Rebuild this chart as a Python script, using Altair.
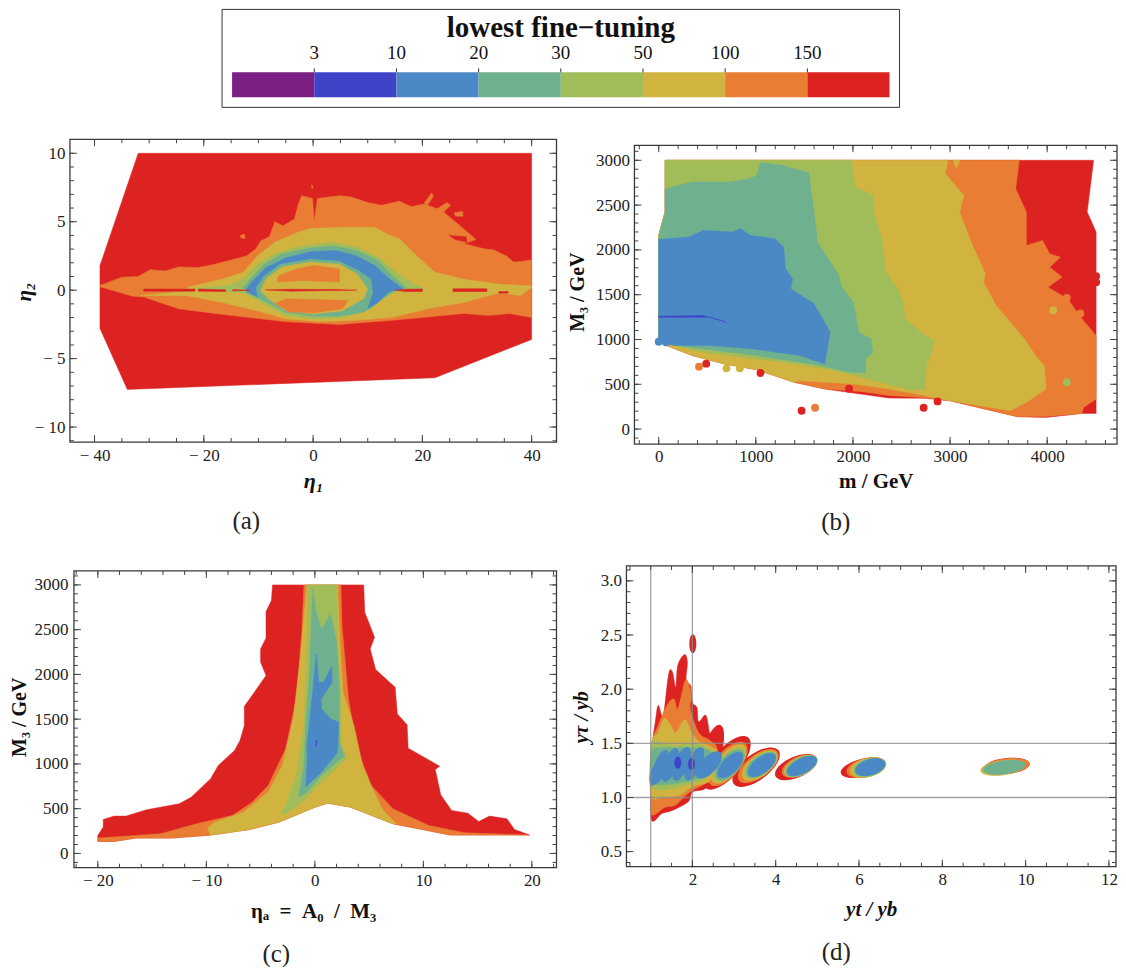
import altair as alt
import pandas as pd

PURPLE, INDIGO, BLUE, TEAL, GREEN, YELLOW, ORANGE, RED = (
    "#7B1F82", "#4043C8", "#4A89C5", "#6FB18E", "#A1BD5A", "#D1B33F", "#E87D33", "#DD2222")
LEGEND_COLOURS = [PURPLE, INDIGO, BLUE, TEAL, GREEN, YELLOW, ORANGE, RED]
LEGEND_LABELS = ["3", "10", "20", "30", "50", "100", "150"]
SERIF = "Liberation Serif"

# ---------- panel (a)
A_RED = [(-32,10),(40,10),(40,-3.6),(22.3,-6.4),(-34,-7.25),(-39,-2.8),(-39,1.8)]
A_ORANGE = [(-39,0.35),(-35,0.95),(-32,1),(-29.8,1.5),(-27,1.4),(-24.6,1.7),(-21,1.65),(-18,1.9),(-15,2.2),(-12.2,2.5),(-10.5,3),(-9.6,3.6),(-8,3.9),(-7,5),(-5.5,4.7),(-3.4,5.2),
            (-2.7,6.3),(-2.1,6.9),(-0.1,6.7),(0.2,5),(0.8,6.7),(4.8,6.9),(7,6.8),(10,6.4),(12.5,6.2),(15.8,6.5),(18,6.1),(20.4,6.3),(23.6,5.8),
            (26.9,4.7),(29.8,3.7),(27.6,3.4),(31.5,3),(33,2.95),(35.4,2.5),(36.7,2.05),(38,2.1),(40,2.2),(40,-2),(36,-1.7),(32,-1.85),(27.6,-1.7),(20,-2),(14.5,-2.2),
            (4.8,-2.5),(-5,-2.3),(-11.5,-2),(-18,-1.7),(-24.6,-1.36),(-31,-0.5),(-33,-0.44),(-39,0.25)]
A_ORANGE_BITS = [[(20.4,6.4),(21.7,7.1),(22,6.85),(20.7,6.1)],[(24.5,6.4),(25.2,6.2),(23.8,5.7),(22.5,5.9)],
                 [(25.8,5.65),(27.4,5.75),(27.4,5.4),(26.1,5.4)],[(-13.3,4),(-12.6,4.1),(-12.4,3.8),(-13.2,3.8)],
                 [(-0.3,7.7),(0,7.6),(-0.2,7.4)]]
A_RED_NOTCH = [(24.9,4),(28,3.9),(28.2,3.5),(26,3.7)]
A_YELLOW = [(-22.6,0.25),(-16.7,0.8),(-12.8,1.3),(-10.2,2.5),(-7,3.5),(-3,4.2),(-0.5,4.5),(5.4,4.6),(11.3,4.6),
            (13.5,4.1),(15.8,3.75),(19,2.5),(22.3,1.3),(27.6,0.8),(34,0.45),(40,0.3),(40,0.22),(38,-0.4),(34,-0.2),(27.6,-0.9),
            (21,-1.35),(14.5,-2),(8,-2.2),(1.5,-2.3),(-5,-2.1),(-10.2,-1.5),(-16.7,-0.9),(-23,-0.4),(-31.7,-0.4),(-24,-0.1)]
A_GREEN = [(-22,0.1),(-15.4,0.35),(-12.8,0.8),(-10.2,1.9),(-7,2.65),(-3,3.15),(3.5,3.5),(8,3.15),(11.9,2.4),(15.2,1.3),
           (18.4,0.45),(20.4,0.1),(15,-0.1),(11.9,-0.9),(10.6,-1.4),(5.4,-2),(0.2,-2.1),(-5,-1.85),(-10.2,-0.75),(-12.8,-0.2)]
A_TEAL = [(-12.8,0.15),(-11.5,0.8),(-8.9,1.9),(-5.7,2.65),(-1.1,3.05),(3.45,3.25),(8,2.9),(11.9,2.15),(14.5,1.05),(17,0.2),
          (14.5,-0.15),(11.3,-1),(9.3,-1.6),(4.8,-1.9),(0.2,-1.9),(-5,-1.6),(-9.6,-0.65),(-12.2,-0.15)]
A_BLUE = [(-12.2,0.1),(-11.2,0.6),(-8.6,1.65),(-5,2.35),(-0.5,2.8),(4.1,2.9),(8,2.5),(11.3,1.8),(13.9,0.85),(16.5,0.1),
          (13.9,-0.1),(11.9,-0.9),(10,-1.35),(11,-0.15),(10.6,0.85),(8,1.55),(4.1,2.15),(-0.5,2.3),(-5,1.9),(-8.9,1.05),
          (-10.5,0.2),(-10.2,-0.5),(-12.2,-0.1)]
A_INNER_TEAL = [(-10.3,0),(-9.2,0.95),(-6,1.9),(-0.5,2.25),(5,2.1),(8.4,1.35),(10.7,0.1),(9.8,-0.7),(5.6,-1.65),(0.2,-1.85),(-5.2,-1.6),(-8.8,-0.7)]
A_INNER_YELLOW = [(-9.6,0),(-8.6,0.85),(-5.7,1.7),(-0.5,2.05),(4.8,1.9),(8,1.2),(10,0.1),(9.3,-0.6),(5.4,-1.5),(0.2,-1.75),(-5,-1.5),(-8.3,-0.6)]
A_INNER_ORANGE_TOP = [(-6.6,0.6),(-6.3,1.05),(-3,1.55),(0.2,1.8),(4.8,1.55),(4.8,0.6),(-1.8,0.7)]
A_INNER_ORANGE_LOW = [(-7,-1),(-5,-0.63),(6.4,-0.75),(5.4,-1.35),(0.2,-1.65),(-4.4,-1.6),(-5.7,-1.25)]
A_RED_LINES = [[(-31,0.08),(-21.6,0.08),(-21.6,-0.08),(-31,-0.08)],[(-21,0.08),(-16,0.03),(-16,-0.1),(-21,-0.08)],
               [(-14.7,0.04),(-11.5,0),(-14.7,-0.05)],[(-8.7,0.02),(-4,0.07),(4,0.05),(8,0),(3,-0.03),(-4,-0.07)],
               [(15,0),(17,0.07),(20,0.09),(20,-0.09),(17,-0.09)],[(25.6,0.1),(31.8,0.1),(31.8,-0.1),(25.6,-0.1)],
               [(34,-0.1),(35.7,-0.1),(35.7,-0.22),(34,-0.22)]]

# ---------- panel (b)
B_RED = [(66,3000),(4478,3000),(4412,2423),(4504,2199),(4504,175),(4357,175),(3989,130),(3695,138),(2996,317),(2739,343),
         (2371,347),(2077,391),(1710,447),(1397,522),(1011,663),(680,727),(349,820),(129,913),(0,969),(0,2162),(66,2423)]
B_ORANGE = [(66,3000),(3713,3000),(3676,2683),(3786,2423),(3786,2050),(3952,2106),(4026,1957),(4136,1919),(4026,1807),(4154,1696),
            (4007,1584),(4210,1454),(4357,1230),(4504,1043),(4504,335),(4375,242),(4357,175),(3989,140),(3695,138),(2996,317),(2739,350),
            (2371,375),(2077,420),(1710,447),(1397,522),(1011,663),(680,727),(349,820),(129,913),(0,969),(0,2162),(66,2423)]
B_YELLOW = [(66,3000),(2978,3000),(2952,2851),(3143,2609),(3099,2423),(3217,2087),(3364,1733),(3346,1640),(3474,1379),(3768,1006),
            (3879,820),(3971,708),(3989,447),(3787,298),(3621,205),(2996,317),(2739,373),(2371,447),(2004,503),(1452,540),(1397,522),
            (1011,663),(680,727),(349,820),(129,913),(0,969),(0,2162),(66,2423)]
B_YELLOW_TIP = [(3030,3000),(3100,3000),(3065,2910)]
B_GREEN = [(66,3000),(1985,3000),(2022,2702),(2206,2609),(2224,2386),(2298,2124),(2335,1752),(2463,1565),(2518,1416),(2537,1230),
           (2702,1081),(2831,988),(2812,857),(2757,708),(2739,447),(2592,436),(2261,529),(1967,615),(1636,690),(1011,783),(460,857),
           (165,932),(0,969),(0,2162),(66,2423)]
B_TEAL = [(66,2683),(349,2758),(717,2758),(938,2795),(1011,2833),(1048,2974),(1268,2944),(1544,2862),(1599,2423),(1636,2087),
          (1857,1714),(1875,1603),(2004,1416),(2059,1081),(2188,1006),(2206,857),(2132,783),(2132,626),(1967,634),(1636,716),
          (1011,820),(460,894),(202,932),(0,969),(0,2124),(66,2423)]
B_BLUE = [(0,2117),(312,2143),(460,2218),(754,2199),(846,2236),(938,2162),(1195,2124),(1287,2031),(1305,1789),(1379,1677),(1360,1565),
          (1599,1398),(1765,1081),(1710,727),(1452,820),(974,894),(533,932),(165,932),(0,969)]
B_INDIGO = [(0,1260),(460,1267),(698,1193),(533,1249),(0,1249)]
B_POINT_X = [0,74,415,489,698,835,1048,1471,1610,1960,2728,2871,4202,4342,4062,4202,4504,4504]
B_POINT_Y = [975,969,697,730,678,678,626,205,238,451,238,309,1465,1290,1327,522,1707,1640]
B_POINT_C = [BLUE,BLUE,ORANGE,RED,YELLOW,YELLOW,RED,RED,ORANGE,RED,RED,RED,ORANGE,ORANGE,YELLOW,GREEN,RED,RED]

# ---------- panel (c)
C_RED = [(-20,134),(-20,200),(-19.5,294),(-19.5,380),(-18.5,417),(-17.4,417),(-15.5,488),(-12.5,555),(-11.4,629),(-9.6,834),(-8.9,983),
         (-7.4,1150),(-6.9,1262),(-6.5,1429),(-6.5,1645),(-6,1727),(-4.5,1987),(-5,2136),(-5,2285),(-4.5,2408),(-4.5,2702),(-4,2825),
         (-3.9,3000),(4.5,3000),(4.6,2694),(5.5,2415),(5.1,2285),(5.6,2054),(7.4,1857),(7.6,1559),(8.5,1437),(8.6,1176),(11.5,975),(11.1,938),
         (11.6,655),(12.6,480),(14.1,450),(15.1,357),(16.1,417),(17.7,387),(18.4,268),(19.8,205),(12.5,205),(7.2,331),(3.3,517),(1.2,562),
         (0,517),(-3.3,350),(-6,268),(-9.6,205),(-13.2,171),(-16.5,171),(-18.5,134)]
C_ORANGE = [(-20,171),(-14.2,220),(-10.9,331),(-7.6,424),(-5.8,570),(-4.3,759),(-2.7,1168),(-1.7,1727),(-1.2,2471),(-1,3000),(2.4,3000),(2.5,2545),
            (3.1,1727),(3.9,1168),(5.2,759),(7.2,499),(10.5,313),(13.8,231),(19.7,205),(12.5,205),(7.2,331),(3.3,517),(1.2,562),(0,517),
            (-3.3,350),(-6,268),(-9.6,205),(-13.2,171),(-16.5,171),(-18.5,134),(-20,134)]
C_YELLOW = [(-9.9,283),(-9.2,350),(-6.6,461),(-4.3,685),(-3,983),(-2,1504),(-1.35,2173),(-0.75,3000),(2.1,3000),(2.3,2434),(2.6,1801),
            (3.6,1429),(4.4,983),(5.4,700),(6.3,480),(7.5,331),(7.2,331),(3.3,517),(1.2,562),(0,517),(-3.3,350),(-6,268),(-9.6,205)]
C_GREEN = [(-3.2,443),(-2.7,536),(-1.7,871),(-1,1429),(-0.75,2173),(-0.6,3000),(2,3000),(2.1,2360),(2.4,1801),(2.4,1206),(2.9,1057),
           (1.6,908),(0.3,759),(-1,592),(-2.6,450)]
C_TEAL = [(-1.5,629),(-1,983),(-0.85,1429),(-0.5,1987),(-0.2,2955),(0.13,2694),(0.6,2501),(1.45,2676),(2,2360),(2.27,1801),(2.27,1243),
          (2.76,1094),(0.6,871),(-0.7,685)]
C_BLUE = [(-0.85,741),(-0.7,1057),(-0.75,1206),(-0.5,1466),(-0.2,1801),(0.13,2229),(0.36,1913),(0.8,1913),(1.55,2092),(1.6,1913),
          (0.6,1727),(0.6,1615),(1.45,1504),(2.2,1466),(2.1,1131),(0.6,908)]
C_INDIGO = [(0.1,1260),(0.2,1260),(0.13,1190)]

# ---------- panel (d): clustered contour on the left, one per level
D_CLUSTER = {
    RED: [(1,1.24),(1.02,1.45),(1.11,1.7),(1.18,1.85),(1.3,1.76),(1.43,2.14),(1.52,2.16),(1.6,2.02),(1.65,2.22),(1.81,2.32),(1.88,2.25),
          (1.85,2.08),(1.96,2.03),(2.0,1.88),(2.11,1.83),(2.15,1.7),(2.32,1.76),(2.41,1.6),(2.5,1.4),(2.6,1.2),(2.3,1.08),
          (2,1.05),(1.9,0.96),(1.52,0.88),(1.26,0.85),(1.07,0.78),(1,0.85)],
    ORANGE: [(1,1.05),(1.02,1.48),(1.18,1.665),(1.39,1.85),(1.56,1.91),(1.65,1.82),(1.81,2.06),(1.88,2.08),(1.98,1.94),(1.95,1.82),(2.15,1.6),
             (2.41,1.53),(2.6,1.45),(2.6,1.25),(2.45,1.16),(1.94,1.05),(1.6,0.93),(1.35,0.91),(1.02,0.84)],
    YELLOW: [(1,1.03),(1.02,1.5),(1.18,1.6),(1.32,1.73),(1.48,1.67),(1.6,1.6),(1.82,1.72),(1.98,1.6),(2.15,1.52),(2.4,1.48),(2.6,1.42),(2.65,1.3),
             (2.4,1.15),(2,1.1),(1.7,1.02),(1.3,1)],
    GREEN: [(1,1.12),(1,1.35),(1.05,1.52),(1.3,1.5),(1.6,1.48),(2,1.5),(2.3,1.47),(2.6,1.4),(2.65,1.3),(2.3,1.17),(1.9,1.12),(1.5,1.08),(1.2,1.07)],
    TEAL: [(1,1.15),(1.02,1.42),(1.25,1.46),(1.6,1.46),(2,1.46),(2.35,1.44),(2.6,1.36),(2.55,1.28),(2.2,1.18),(1.8,1.14),(1.4,1.12),(1.1,1.12)],
}
# panel (d): elliptical lobes, as read: colour, centre x, centre y, half length, half width (px), tilt (deg)
D_LOBE_C = [RED,RED,RED,RED,RED,RED,RED,
            ORANGE,ORANGE,ORANGE,ORANGE,ORANGE,
            YELLOW,YELLOW,YELLOW,YELLOW,YELLOW,
            GREEN,GREEN,GREEN,GREEN,
            TEAL,TEAL,TEAL,TEAL,TEAL,
            BLUE,BLUE,BLUE,BLUE,BLUE,BLUE,BLUE,BLUE,BLUE,BLUE,
            INDIGO,INDIGO]
D_LOBE_X = [2.43,2.83,3.53,4.49,6.1,9.55,2.01,
            2.85,3.58,4.57,6.17,9.55,
            2.87,3.62,4.6,6.22,9.45,
            2.89,3.64,4.61,6.25,
            2.9,3.65,4.62,6.26,9.49,
            1.07,1.23,1.47,1.74,2.05,2.4,2.91,3.67,4.63,6.27,
            1.65,1.98]
D_LOBE_Y = [1.37,1.32,1.28,1.28,1.275,1.29,2.42,
            1.31,1.29,1.29,1.275,1.29,
            1.31,1.295,1.29,1.277,1.275,
            1.305,1.3,1.29,1.278,
            1.3,1.3,1.29,1.279,1.278,
            1.2,1.28,1.3,1.31,1.31,1.3,1.3,1.3,1.29,1.28,
            1.32,1.31]
D_LOBE_LEN = [34,33,28,22.5,23,23,9.5,
              27,24,19,20,23,
              24,21,18,18.5,22.5,
              21,19,17.5,17,
              19,18,17.3,16,21.5,
              10,18,18,18,18,17,16.5,16.5,16.5,15.5,
              6,6]
D_LOBE_WID = [10,14,13,10.5,9,8,3.5,
              12.5,11.5,9.5,9.5,7.8,
              11,10.5,9,9.5,7.6,
              10,9.5,8.7,9,
              9.5,9,8.3,8.5,7,
              4,6.5,6.5,7,7,8,8,8,7.5,8,
              3.5,3.5]
D_LOBE_TILT = [73,50,37,23,14,6,90,
               50,37,25,14,6,
               50,37,25,14,8,
               48,37,26,15,
               48,37,27,16,8,
               80,70,70,68,65,48,45,37,27,17,
               90,90]

MINUS = "datum.value < 0 ? '\u2212 ' + format(-datum.value, '{f}') : format(datum.value, '{f}')"
COMMON_AXIS = dict(grid=False, ticks=False, domain=False, labelFont=SERIF, labelFontSize=17, labelColor="#222",
                   titleFont=SERIF, titleFontWeight="bold", titleColor="#111", labelFlush=False, labelOverlap=False)


def encodings(xdom, ydom, xt, yt, xtitle, ytitle, ext, ypad, xlab, ylab, ital=False, yf="d", xsize=21, ysize=20, xpad=9):
    X = alt.X("x:Q", scale=alt.Scale(domain=xdom, nice=False, zero=False),
              axis=alt.Axis(values=xt, title=xtitle, labelPadding=xlab, titlePadding=xpad, titleFontSize=xsize,
                            titleFontStyle="italic" if ital else "normal", labelExpr=MINUS.replace("{f}", "d"), **COMMON_AXIS))
    Y = alt.Y("y:Q", scale=alt.Scale(domain=ydom, nice=False, zero=False),
              axis=alt.Axis(values=yt, title=ytitle, labelPadding=ylab, titlePadding=ypad, minExtent=ext, maxExtent=ext, titleFontSize=ysize,
                            titleFontStyle="italic" if ital else "normal", labelExpr=MINUS.replace("{f}", yf), **COMMON_AXIS))
    return X, Y


def poly(points, colour, X, Y, smooth=False):
    df = pd.DataFrame(points, columns=["x", "y"])
    df["o"] = range(len(df))
    return alt.Chart(df).mark_line(
        fill=colour, stroke=colour, strokeWidth=0.5,
        interpolate="cardinal-closed" if smooth else "linear-closed",
    ).encode(x=X, y=Y, order="o:Q")


def frame(xmaj, xmin, ymaj, ymin, X, Y, box):
    x0, x1, y0, y1 = box
    out = []
    for vals, size in ((xmaj, 7), (xmin, 4)):
        d = pd.DataFrame({"x": vals})
        for py in (y0 + size / 2, y1 - size / 2):
            out.append(alt.Chart(d).mark_tick(orient="vertical", size=size, thickness=1, color="#444", opacity=1).encode(
                x=X, y=alt.value(py)))
    for vals, size in ((ymaj, 7), (ymin, 4)):
        d = pd.DataFrame({"y": vals})
        for px in (x0 + size / 2, x1 - size / 2):
            out.append(alt.Chart(d).mark_tick(orient="horizontal", size=size, thickness=1, color="#444", opacity=1).encode(
                y=Y, x=alt.value(px)))
    out.append(alt.Chart(pd.DataFrame({"a": [0]})).mark_rect(filled=False, stroke="#3a3a3a", strokeWidth=1.3).encode(
        x=alt.value(x0), x2=alt.value(x1), y=alt.value(y0), y2=alt.value(y1)))
    return out


def panel(layers, caption, w, h, dx, offset=18):
    return alt.layer(*layers).properties(
        width=w, height=h,
        title=alt.TitleParams(caption, orient="bottom", font=SERIF, fontSize=25, fontWeight="normal",
                              color="#222", offset=offset, anchor="middle", dx=dx))


# Panel a
wa, ha = 487, 305
Xa, Ya = encodings([-44.5, 44.55], [-11.24, 11.02], [-40,-20,0,20,40], [-10,-5,0,5,10], "\u03b7\u2081", "\u03b7\u2082", 27, 8, 3, 5,
                   ital=True, xsize=22, ysize=21, xpad=7)
la = [poly(A_RED, RED, Xa, Ya), poly(A_ORANGE, ORANGE, Xa, Ya)]
la += [poly(p, ORANGE, Xa, Ya) for p in A_ORANGE_BITS]
la += [poly(A_RED_NOTCH, RED, Xa, Ya), poly(A_YELLOW, YELLOW, Xa, Ya), poly(A_GREEN, GREEN, Xa, Ya), poly(A_TEAL, TEAL, Xa, Ya),
       poly(A_BLUE, BLUE, Xa, Ya), poly(A_INNER_TEAL, TEAL, Xa, Ya), poly(A_INNER_YELLOW, YELLOW, Xa, Ya),
       poly(A_INNER_ORANGE_TOP, ORANGE, Xa, Ya), poly(A_INNER_ORANGE_LOW, ORANGE, Xa, Ya)]
la += [poly(p, RED, Xa, Ya) for p in A_RED_LINES]
la += frame([-40,-20,0,20,40], list(range(-40,41,5)), [-10,-5,0,5,10], list(range(-11,11)), Xa, Ya, (0, wa, 0, 303))
pa = panel(la, "(a)", wa, ha, -67)

# Panel b
wb, hb = 483, 305
Xb, Yb = encodings([-250, 4719], [-167, 3234], [0,1000,2000,3000,4000], [0,500,1000,1500,2000,2500,3000], "m / GeV", "M\u2083 / GeV", 39, 8, 4, 5, xpad=7)
lb = []
for pts, c in ((B_RED, RED), (B_ORANGE, ORANGE), (B_YELLOW, YELLOW), (B_YELLOW_TIP, YELLOW), (B_GREEN, GREEN), (B_TEAL, TEAL), (B_BLUE, BLUE), (B_INDIGO, INDIGO)):
    lb.append(poly(pts, c, Xb, Yb))
df_b = pd.DataFrame({"x": B_POINT_X, "y": B_POINT_Y, "c": B_POINT_C})
lb.append(alt.Chart(df_b).mark_circle(size=62, opacity=1).encode(x=Xb, y=Yb, color=alt.Color("c:N", scale=None)))
lb += frame([0,1000,2000,3000,4000], list(range(-200,4701,200)), [0,500,1000,1500,2000,2500,3000], list(range(-100,3101,100)), Xb, Yb, (0, wb, 6, hb))
pb = panel(lb, "(b)", wb, hb, -40)

# Panel c
wc, hc = 487, 302
Xc, Yc = encodings([-22.57, 22.27], [-159, 3212], [-20,-10,0,10,20], [0,500,1000,1500,2000,2500,3000],
                   "\u03b7\u2090\u00a0\u00a0=\u00a0\u00a0A\u2080\u00a0\u00a0/\u00a0\u00a0M\u2083", "M\u2083 / GeV", 32, 8, 5, 2, xpad=12)
lc = []
for pts, c in ((C_RED, RED), (C_ORANGE, ORANGE), (C_YELLOW, YELLOW), (C_GREEN, GREEN), (C_TEAL, TEAL), (C_BLUE, BLUE), (C_INDIGO, INDIGO)):
    lc.append(poly(pts, c, Xc, Yc))
lc += frame([-20,-10,0,10,20], list(range(-22,23,2)), [0,500,1000,1500,2000,2500,3000], list(range(-100,3101,100)), Xc, Yc, (4, wc, 5, hc))
pc = panel(lc, "(c)", wc, hc, -37, offset=20)

# Panel d
wd, hd = 490, 302
Xd, Yd = encodings([0.417, 12.17], [0.352, 3.138], [2,4,6,8,10,12], [0.5,1.0,1.5,2.0,2.5,3.0], "yt / yb", "y\u03c4 / yb", 27, 8, 4, 5, ital=True, yf=".1f", xpad=11)
lobes = pd.DataFrame({"x": D_LOBE_X, "y": D_LOBE_Y, "c": D_LOBE_C, "a": [360 - t for t in D_LOBE_TILT],
                      "s": [(2 * l) ** 2 for l in D_LOBE_LEN],
                      "p": [f"M-1,0A1,{w / l:.3f},0,1,1,1,0A1,{w / l:.3f},0,1,1,-1,0Z" for w, l in zip(D_LOBE_WID, D_LOBE_LEN)]})
ld = []
for c in (RED, ORANGE, YELLOW, GREEN, TEAL, BLUE, INDIGO):
    if c in D_CLUSTER:
        ld.append(poly(D_CLUSTER[c], c, Xd, Yd, smooth=True))
    ld.append(alt.Chart(lobes[lobes.c == c]).mark_point(filled=True, opacity=1, strokeWidth=0).encode(
        x=Xd, y=Yd, color=alt.Color("c:N", scale=None), shape=alt.Shape("p:N", scale=None, legend=None),
        size=alt.Size("s:Q", scale=None, legend=None), angle=alt.Angle("a:Q", scale=None)))
REF_X = [1, 2]
REF_Y = [1.0, 1.5]
ld.append(alt.Chart(pd.DataFrame({"x": REF_X})).mark_rule(color="#8c8c8c", strokeWidth=1.3, opacity=0.8).encode(x=Xd))
ld.append(alt.Chart(pd.DataFrame({"y": REF_Y})).mark_rule(color="#8c8c8c", strokeWidth=1.3, opacity=0.8).encode(y=Yd))
ld += frame([2,4,6,8,10,12], [v / 2 for v in range(1, 25)], [0.5,1.0,1.5,2.0,2.5,3.0], [v / 10 for v in range(4, 32)], Xd, Yd, (0, wd, 0, 301))
pd_ = panel(ld, "(d)", wd, hd, -35, offset=20)

# Legend drawn in a full-width strip
WL, HL = 1048, 100
sxl = alt.Scale(domain=[-1.973, 10.768], nice=False, zero=False)
syl = alt.Scale(domain=[100, 0], nice=False, zero=False)
seg = pd.DataFrame({"a": list(range(8)), "b": list(range(1, 9)), "c": LEGEND_COLOURS, "t": [63] * 8, "u": [88] * 8})
box = alt.Chart(pd.DataFrame({"a": [-0.122], "b": [8.122], "t": [0], "u": [98]})).mark_rect(
    fill="white", stroke="#333", strokeWidth=1).encode(
    x=alt.X("a:Q", scale=sxl, axis=None), x2="b:Q", y=alt.Y("t:Q", scale=syl, axis=None), y2="u:Q")
bars = alt.Chart(seg).mark_rect().encode(
    x=alt.X("a:Q", scale=sxl, axis=None), x2="b:Q", y=alt.Y("t:Q", scale=syl, axis=None), y2="u:Q",
    color=alt.Color("c:N", scale=None))
tk = pd.DataFrame({"a": list(range(1, 8)), "l": LEGEND_LABELS, "t": [59] * 7, "u": [63] * 7, "y": [44] * 7})
tickm = alt.Chart(tk).mark_rule(color="#333", strokeWidth=1).encode(
    x=alt.X("a:Q", scale=sxl, axis=None), y=alt.Y("t:Q", scale=syl, axis=None), y2="u:Q")
labs = alt.Chart(tk).mark_text(font=SERIF, fontSize=19, color="#111").encode(
    x=alt.X("a:Q", scale=sxl, axis=None), y=alt.Y("y:Q", scale=syl, axis=None), text="l:N")
ttl = alt.Chart(pd.DataFrame({"a": [4], "y": [19], "l": ["lowest fine\u2212tuning"]})).mark_text(
    font=SERIF, fontSize=29, fontWeight="bold", color="#111").encode(
    x=alt.X("a:Q", scale=sxl, axis=None), y=alt.Y("y:Q", scale=syl, axis=None), text="l:N")
legend = alt.layer(box, bars, tickm, labs, ttl).properties(width=WL, height=HL)

row1 = alt.hconcat(pa, pb, spacing=10)
row2 = alt.hconcat(pc, pd_, spacing=14)
rows = alt.vconcat(row1, row2, spacing=30)
chart = alt.vconcat(legend, rows, spacing=29).properties(
    padding={"left": 2, "top": 0, "right": 0, "bottom": 0}, background="white").configure_view(stroke=None)
chart.save("out.html", embed_options={"renderer": "svg", "actions": False})
